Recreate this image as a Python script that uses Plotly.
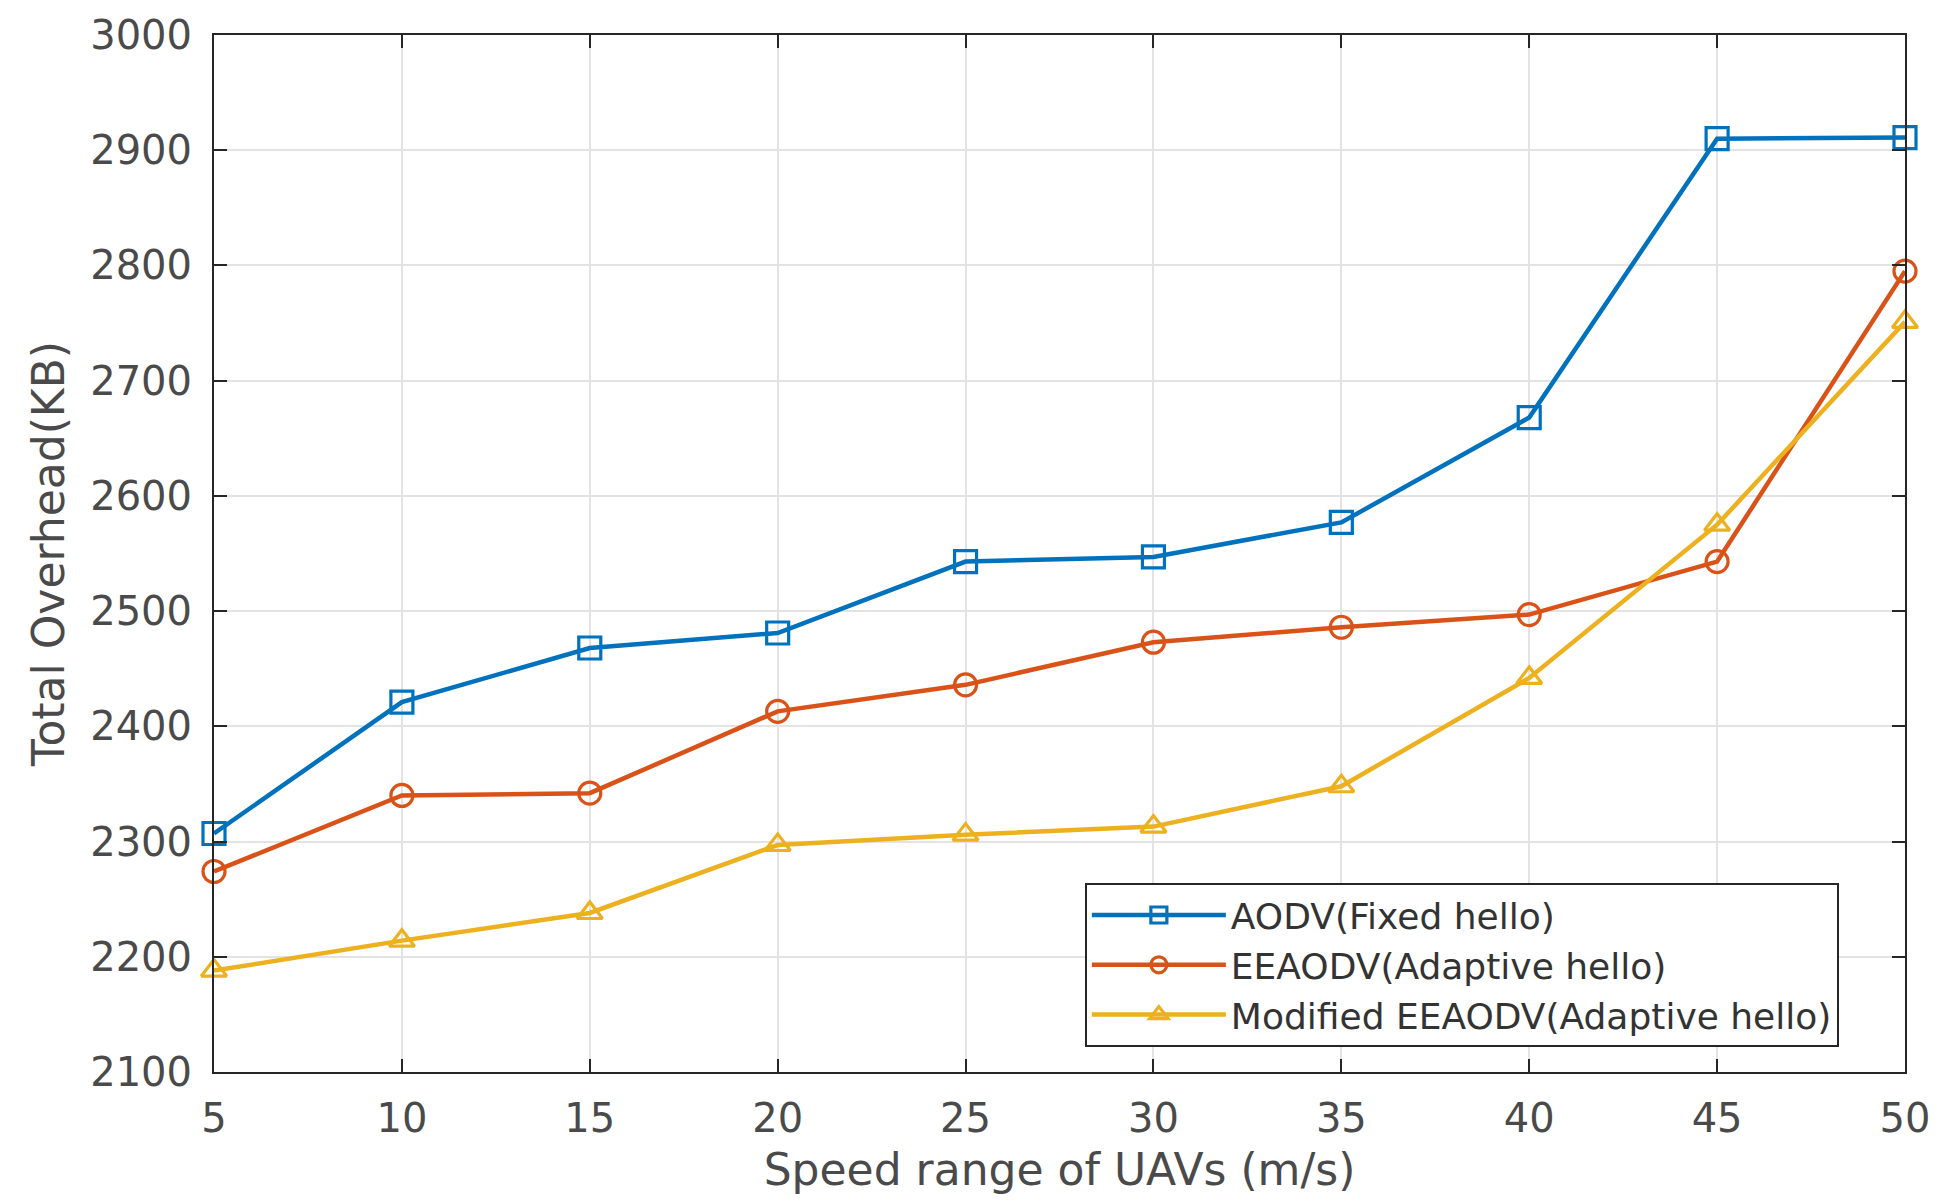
import plotly.graph_objects as go

# UAV speed range (m/s)
speeds = [5, 10, 15, 20, 25, 30, 35, 40, 45, 50]

# Total routing overhead (KB) for each protocol variant
aodv_fixed = [2307, 2421, 2468, 2481, 2543, 2547, 2577, 2668, 2910, 2911]
eeaodv_adaptive = [2274, 2340, 2342, 2413, 2436, 2473, 2486, 2497, 2543, 2795]
mod_eeaodv_adaptive = [2188, 2214, 2238, 2297, 2306, 2313, 2348, 2442, 2575, 2751]

series_names = [
    "AODV(Fixed hello)",
    "EEAODV(Adaptive hello)",
    "Modified EEAODV(Adaptive hello)",
]
series_values = [aodv_fixed, eeaodv_adaptive, mod_eeaodv_adaptive]
series_colors = ["#0072BD", "#D95319", "#EDB120"]
series_symbols = ["square-open", "circle-open", "triangle-up-open"]

x_ticks = [5, 10, 15, 20, 25, 30, 35, 40, 45, 50]
y_ticks = [2100, 2200, 2300, 2400, 2500, 2600, 2700, 2800, 2900, 3000]

FONT = "DejaVu Sans"
AXIS_COLOR = "#262626"
TEXT_COLOR = "#4a4a4a"

fig = go.Figure()
for name, vals, color, sym in zip(series_names, series_values, series_colors, series_symbols):
    fig.add_trace(
        go.Scatter(
            x=speeds,
            y=vals,
            name=name,
            mode="lines+markers",
            line=dict(color=color, width=4.5),
            marker=dict(symbol=sym, size=22, color=color, line=dict(color=color, width=3.2)),
            cliponaxis=False,
        )
    )

axis_common = dict(
    showline=True,
    linecolor=AXIS_COLOR,
    linewidth=2,
    mirror="ticks",
    ticks="inside",
    ticklen=13,
    tickwidth=2,
    tickcolor=AXIS_COLOR,
    showgrid=True,
    gridcolor="#e3e3e3",
    gridwidth=1.5,
    zeroline=False,
    tickfont=dict(family=FONT, size=40, color=TEXT_COLOR),
)

fig.update_xaxes(
    range=[5, 50],
    tickvals=x_ticks,
    ticktext=[str(v) for v in x_ticks],
    title=dict(text="Speed range of UAVs (m/s)", font=dict(family=FONT, size=44, color=TEXT_COLOR), standoff=14),
    ticklabelstandoff=10,
    **axis_common,
)
fig.update_yaxes(
    range=[2100, 3000],
    tickvals=y_ticks,
    ticktext=[str(v) for v in y_ticks],
    title=dict(text="Total Overhead(KB)", font=dict(family=FONT, size=44, color=TEXT_COLOR), standoff=12),
    ticklabelstandoff=12,
    **axis_common,
)

fig.update_layout(
    width=1942,
    height=1204,
    margin=dict(l=214, r=33, t=32, b=132),
    paper_bgcolor="white",
    plot_bgcolor="white",
    font=dict(family=FONT, color=TEXT_COLOR),
    legend=dict(
        x=0.515,
        y=0.024,
        xanchor="left",
        yanchor="bottom",
        bgcolor="white",
        bordercolor=AXIS_COLOR,
        borderwidth=2,
        font=dict(family=FONT, size=36, color="#333333"),
        itemwidth=134,
        tracegroupgap=0,
    ),
    showlegend=True,
)

fig.write_html("out.html")
